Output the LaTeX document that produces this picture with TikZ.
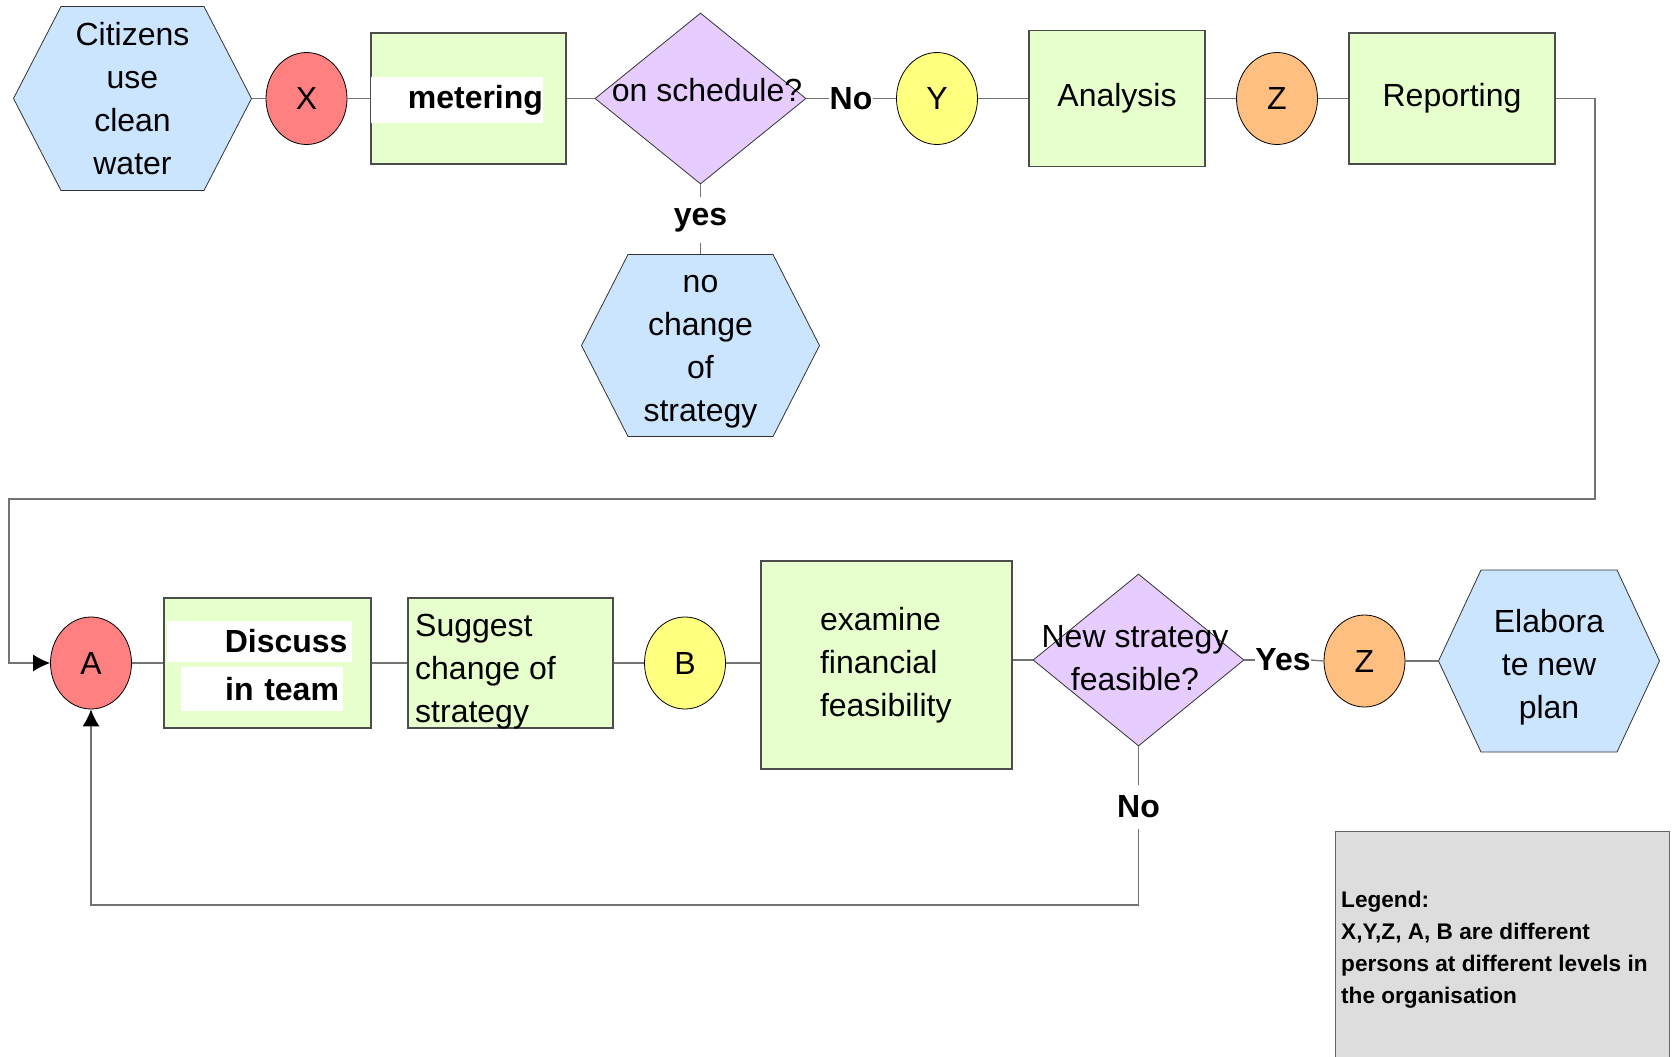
\documentclass[tikz,border=0pt]{standalone}
\usepackage{fontspec}
\setmainfont{Liberation Sans}
\usetikzlibrary{shapes.geometric,arrows.meta}

\definecolor{eventblue}{RGB}{204,229,255}
\definecolor{procgreen}{RGB}{230,255,204}
\definecolor{decpurple}{RGB}{230,204,255}
\definecolor{pred}{RGB}{255,128,128}
\definecolor{pyellow}{RGB}{255,255,128}
\definecolor{porange}{RGB}{255,191,128}
\definecolor{legendgray}{RGB}{221,221,221}

\tikzset{
  txt/.style={font=\fontsize{32}{43}\selectfont},
  lbl/.style={font=\bfseries\fontsize{32}{43}\selectfont, inner xsep=0pt, inner ysep=11pt},
  conn/.style={draw=black!55, line width=1.3pt},
  tip/.style={-{Latex[length=17pt,width=17pt,black]}},
  proc/.style={rectangle, draw=black!70, fill=procgreen, line width=1.2pt, txt},
  person/.style={ellipse, draw=black, line width=0.8pt, inner sep=0pt,
    minimum width=81pt, minimum height=92pt, txt},
  decision/.style={diamond, draw=black!80, fill=decpurple, line width=0.8pt, inner sep=0pt,
    minimum width=211pt, minimum height=171pt},
  event/.style n args={3}{rectangle, inner sep=0pt, minimum width=#1, minimum height=#2,
    txt, align=center,
    path picture={
      \filldraw[draw=black!80, fill=eventblue, line width=0.8pt]
        ([xshift=0.5pt]path picture bounding box.west)
        -- ([xshift=#3, yshift=-0.5pt]path picture bounding box.north west)
        -- ([xshift=-#3, yshift=-0.5pt]path picture bounding box.north east)
        -- ([xshift=-0.5pt]path picture bounding box.east)
        -- ([xshift=-#3, yshift=0.5pt]path picture bounding box.south east)
        -- ([xshift=#3, yshift=0.5pt]path picture bounding box.south west)
        -- cycle;
    }},
  hilite/.style={fill=white, inner sep=0pt, align=right}
}

\begin{document}
\begin{tikzpicture}[x=1pt,y=-1pt]
  \useasboundingbox (0,0) rectangle (1674,1057);

  % first row
  \node[event={239pt}{185pt}{48pt}] (citizens) at (132.5,98.5) {Citizens\\use\\clean\\water};
  \node[person, fill=pred] (px) at (306.5,98.5) {X};
  \node[proc, minimum width=195pt, minimum height=131pt] (metering) at (468.5,98.5) {};
  \node[hilite, lbl, inner ysep=0pt, minimum width=172pt, text width=172pt, minimum height=46pt] (meteringtxt) at (457,100) {metering};
  \node[decision] (sched) at (700.5,98.5) {};
  \node[txt, inner sep=0pt] (schedtxt) at (707,90) {on schedule?};
  \node[lbl] (no1) at (851,98.5) {No};
  \node[person, fill=pyellow] (py) at (937,98.5) {Y};
  \node[proc, minimum width=176pt, minimum height=136pt] (analysis) at (1117,98.5) {Analysis};
  \node[person, fill=porange] (pz1) at (1277,98.5) {Z};
  \node[proc, minimum width=206pt, minimum height=131pt] (reporting) at (1452,98.5) {Reporting};

  \node[lbl] (yes1) at (700.5,220) {yes};
  \node[event={239pt}{183pt}{47pt}] (nochange) at (700.5,345.5) {};
  \node[txt, inner sep=0pt, align=center] (nochangetxt) at (700.5,352) {no\\change\\of\\strategy};

  \draw[conn] (citizens.east) -- (px.west);
  \draw[conn] (px.east) -- (metering.west);
  \draw[conn] (metering.east) -- (sched.west);
  \draw[conn] (sched.east) -- (no1.west);
  \draw[conn] (no1.east) -- (py.west);
  \draw[conn] (py.east) -- (analysis.west);
  \draw[conn] (analysis.east) -- (pz1.west);
  \draw[conn] (pz1.east) -- (reporting.west);
  \draw[conn] (sched.south) -- (yes1.north);
  \draw[conn] (yes1.south) -- (nochange.north);

  % second row
  \node[person, fill=pred] (pa) at (91,663) {A};
  \node[proc, minimum width=207pt, minimum height=130pt] (discuss) at (267.5,663) {};
  \node[hilite, lbl, inner ysep=0pt, minimum width=185pt, text width=176pt, minimum height=41pt] (discusstop) at (259.5,641.5) {Discuss};
  \node[hilite, lbl, inner ysep=0pt, minimum width=162pt, text width=154pt, minimum height=44pt] (discussbot) at (262,689) {in team};
  \node[proc, minimum width=205pt, minimum height=130pt] (suggest) at (510.5,663) {};
  \node[txt, inner sep=0pt, align=left, anchor=west] (suggesttxt) at (415,672) {Suggest\\change of\\strategy};
  \node[person, fill=pyellow] (pb) at (685,663) {B};
  \node[proc, minimum width=251pt, minimum height=208pt, inner xsep=59pt, text width=133pt, align=left] (examine) at (886.5,665) {examine\\financial\\feasibility};
  \node[decision, minimum height=172pt] (feasible) at (1138.5,660) {};
  \node[txt, inner sep=0pt, align=center] (feasibletxt) at (1135,658) {New strategy\\feasible?};
  \node[lbl] (yes2) at (1283,660) {Yes};
  \node[person, fill=porange] (pz2) at (1364.5,661) {Z};
  \node[event={222pt}{183pt}{43pt}] (elaborate) at (1549,661) {};
  \node[txt, inner sep=0pt, align=center] (elaboratetxt) at (1549,667) {Elabora\\te new\\plan};
  \node[lbl] (no2) at (1138.5,807) {No};

  \draw[conn] (pa.east) -- (discuss.west);
  \draw[conn] (discuss.east) -- (suggest.west);
  \draw[conn] (suggest.east) -- (pb.west);
  \draw[conn] (pb.east) -- (examine.west |- pb.east);
  \draw[conn] (examine.east |- feasible.west) -- (feasible.west);
  \draw[conn] (feasible.east) -- (yes2.west);
  \draw[conn] (yes2.east) -- (pz2.west);
  \draw[conn] (pz2.east) -- (elaborate.west);
  \draw[conn] (feasible.south) -- (no2.north);

  % loops back to A
  \coordinate (turnR) at (1595,499);
  \coordinate (turnL) at (9,499);
  \coordinate (turnB) at (1138.5,905);
  \draw[conn,tip] (reporting.east) -| (turnR) -- (turnL) |- (pa.west);
  \draw[conn,tip] (no2.south) -- (turnB) -| (pa.south);

  % legend
  \node[draw=black!60, fill=legendgray, line width=1.2pt, inner sep=0pt, anchor=north west,
    minimum width=334pt, minimum height=240pt] (legend) at (1335,831) {};
  \node[font=\bfseries\fontsize{22.6}{32}\selectfont, align=left, inner sep=0pt, anchor=north west]
    (legendtxt) at (1341,891) {Legend:\\X,Y,Z, A, B are different\\persons at different levels in\\the organisation};
\end{tikzpicture}
\end{document}
